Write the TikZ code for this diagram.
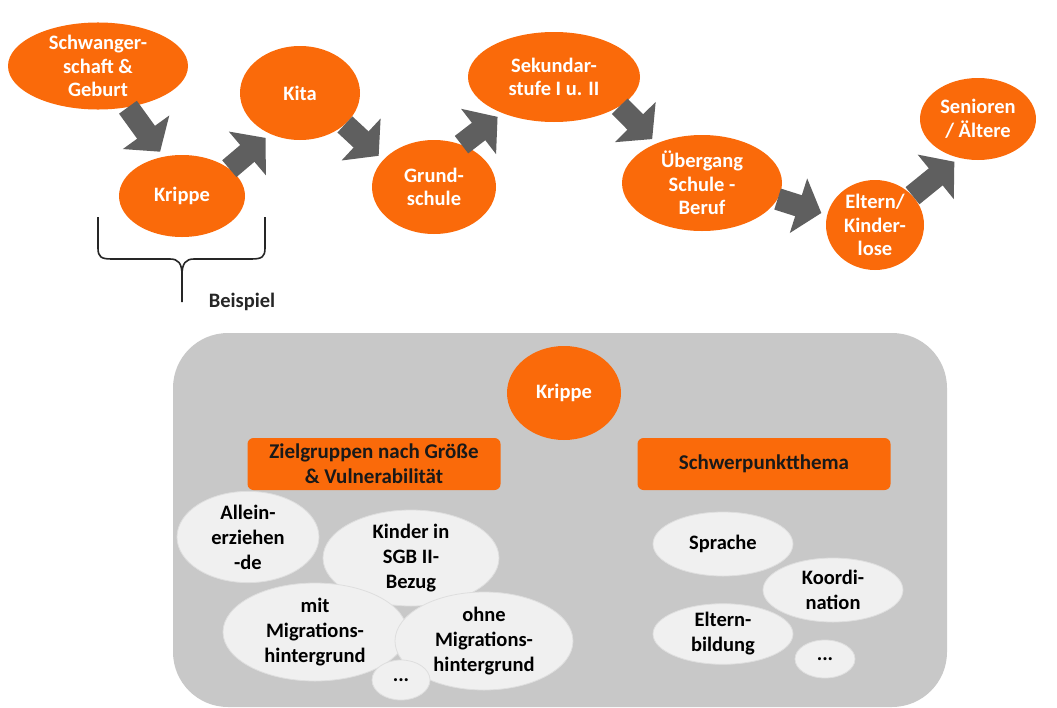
\documentclass[tikz,border=0pt]{standalone}
\usepackage{fontspec}
\setmainfont{Carlito}
\usetikzlibrary{shapes.geometric,arrows.meta}
\definecolor{orng}{RGB}{250,106,10}
\definecolor{arrgray}{RGB}{95,95,95}
\definecolor{panelgray}{RGB}{200,200,200}
\definecolor{ellgray}{RGB}{240,240,240}
\definecolor{ellline}{RGB}{222,222,222}
\begin{document}
\begin{tikzpicture}[x=1pt,y=-1pt]
        \tikzstyle{stage}=[ellipse,fill=orng,text=white,inner sep=0pt,align=center,font=\bfseries\fontsize{20.5}{23.5}\selectfont]
        \tikzstyle{group}=[ellipse,fill=ellgray,draw=ellline,line width=0.8pt,inner sep=0pt,align=center,text=black,font=\bfseries\fontsize{20.5}{25}\selectfont]
        \tikzstyle{headbox}=[rectangle,rounded corners=6pt,fill=orng,minimum width=253pt,minimum height=52pt,align=center,text=black!90,font=\bfseries\fontsize{21}{25}\selectfont]
        \tikzstyle{flow}=[draw=arrgray,line width=22pt,-{Triangle[length=24pt,width=56pt]},shorten >=6pt]
        \useasboundingbox (0,0) rectangle (1057,707);
        %\node[stage] (name) at (x,y) {text};
        %\draw[flow] (from.angle) -- (to.angle);
        \node[stage,minimum width=180pt,minimum height=86pt] (sg) at (98,66) {Schwanger-\\schaft \&\\Geburt};
        \node[stage,minimum width=126pt,minimum height=82pt] (kr) at (182,196) {Krippe};
        \node[stage,minimum width=120pt,minimum height=94pt] (kita) at (300,93) {Kita};
        \node[stage,minimum width=124pt,minimum height=94pt] (gs) at (434,187) {Grund-\\schule};
        \node[stage,minimum width=172pt,minimum height=90pt] (sek) at (554,77) {Sekundar-\\stufe I u. II};
        \node[stage,minimum width=160pt,minimum height=96pt] (ueb) at (702,183) {Übergang\\Schule -\\Beruf};
        \node[stage,minimum width=98pt,minimum height=90pt] (elt) at (875,225) {Eltern/\\Kinder-\\lose};
        \node[stage,minimum width=116pt,minimum height=82pt] (sen) at (978,119) {Senioren\\/ Ältere};
        \draw[flow] (sg.-54) -- (kr.115);
        \draw[flow] (kr.30) -- (kita.-126);
        \draw[flow] (kita.-35) -- (gs.152);
        \draw[flow] (gs.57) -- (sek.-145);
        \draw[flow] (sek.-24) -- (ueb.139);
        \draw[flow] (ueb.-12) -- (elt.168);
        \draw[flow] (elt.38) -- (sen.-116);
        % brace under Krippe
        \draw[line width=1.6pt,black!85] (98,217) -- (98,248) .. controls (98,257) and (101,259) .. (112,259) -- (170,259) .. controls (178,259) and (182,263) .. (182,275) -- (182,302);
        \draw[line width=1.6pt,black!85] (265,217) -- (265,248) .. controls (265,257) and (262,259) .. (251,259) -- (194,259) .. controls (186,259) and (182,263) .. (182,275);
        \node[font=\bfseries\fontsize{20.5}{24}\selectfont,text=black!85] (bsp) at (242,302) {Beispiel};
        % detail panel
        \fill[panelgray,rounded corners=55pt] (173,333) rectangle (947,707);
        \node[stage,minimum width=114pt,minimum height=94pt] (kr2) at (564,393) {Krippe};
        \node[headbox] (zg) at (374,464) {Zielgruppen nach Größe\\\& Vulnerabilität};
        \node[headbox] (sp) at (764,464) {Schwerpunktthema};
        \node[group,minimum width=142pt,minimum height=88pt] (allein) at (248,537) {Allein-\\erziehen\\-de};
        \node[group,minimum width=176pt,minimum height=96pt] (sgb) at (411,558) {Kinder in\\SGB II-\\Bezug};
        \node[group,minimum width=184pt,minimum height=98pt] (mit) at (315,632) {mit\\Migrations-\\hintergrund};
        \node[group,minimum width=178pt,minimum height=98pt] (ohne) at (484,641) {ohne\\Migrations-\\hintergrund};
        \node[group,minimum width=58pt,minimum height=40pt] (etc1) at (401,680) {...};
        \node[group,minimum width=140pt,minimum height=64pt] (sprache) at (723,544) {Sprache};
        \node[group,minimum width=140pt,minimum height=64pt] (koord) at (833,590) {Koordi-\\nation};
        \node[group,minimum width=140pt,minimum height=60pt] (eltb) at (723,634) {Eltern-\\bildung};
        \node[group,minimum width=60pt,minimum height=38pt] (etc2) at (825,659) {...};
\end{tikzpicture}
\end{document}
